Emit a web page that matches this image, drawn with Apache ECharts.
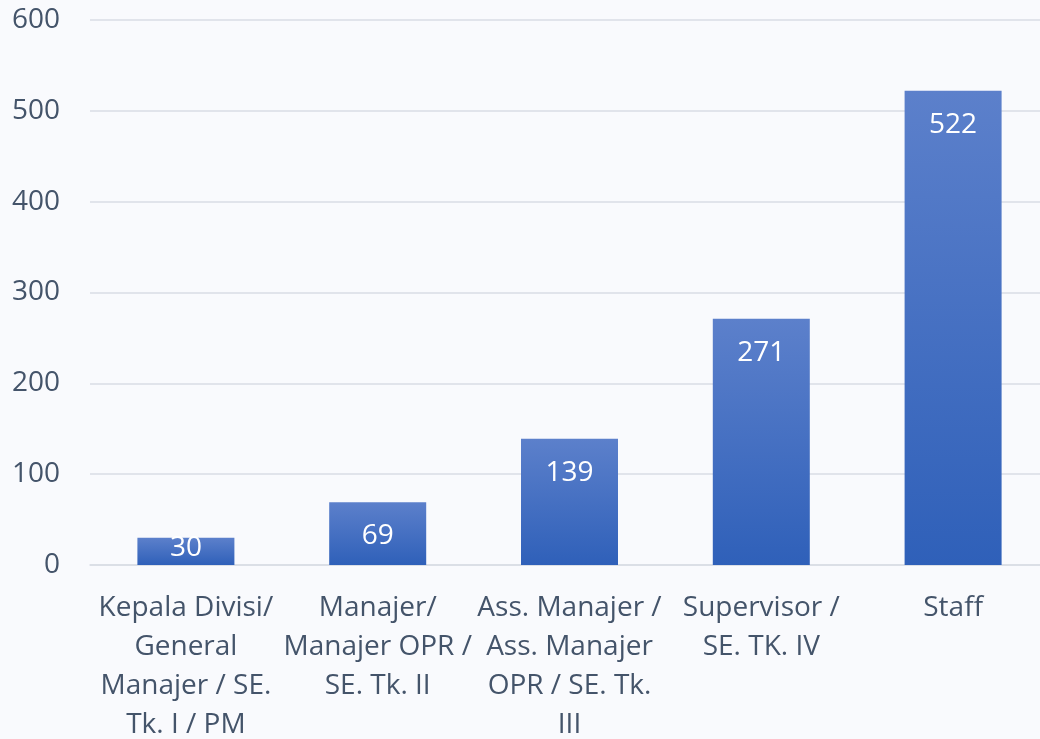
<!DOCTYPE html>
<html lang="en">
<head>
<meta charset="UTF-8" />
<title>Chart</title>
<script src="https://cdn.jsdelivr.net/npm/echarts@6/dist/echarts.min.js"></script>
<style>
  html, body { margin: 0; padding: 0; background: #F9FAFD; }
  #main { width: 1040px; height: 739px; }
</style>
</head>
<body>
<div id="main"></div>
<script>
  // kategori jabatan (baris dipecah seperti di gambar)
  var categories = [
    'Kepala Divisi/\nGeneral\nManajer / SE.\nTk. I / PM',
    'Manajer/\nManajer OPR /\nSE. Tk. II',
    'Ass. Manajer /\nAss. Manajer\nOPR / SE. Tk.\nIII',
    'Supervisor /\nSE. TK. IV',
    'Staff'
  ];
  var values = [30, 69, 139, 271, 522];

  var textColor = '#44546A';
  var font = 'Open Sans';

  var barColor = new echarts.graphic.LinearGradient(0, 0, 0, 1, [
    { offset: 0, color: '#5C80CB' },
    { offset: 1, color: '#2F60B9' }
  ]);

  var seriesData = values.map(function (v) {
    var item = { value: v };
    // bar terlalu pendek: label diletakkan di tengah
    if (v < 50) {
      item.label = { position: 'inside', offset: [0, -3] };
    }
    return item;
  });

  var myChart = echarts.init(document.getElementById('main'));
  var option = {
    backgroundColor: '#F9FAFD',
    animation: false,
    // plot area lebih lebar dari kanvas (terpotong di kanan seperti aslinya)
    grid: { left: 90, width: 959, top: 20, height: 545, outerBoundsMode: 'none' },
    xAxis: {
      type: 'category',
      data: categories,
      axisTick: { show: false },
      axisLine: { lineStyle: { color: '#D9DDE5', width: 1.5 } },
      axisLabel: {
        color: textColor,
        fontFamily: font,
        fontSize: 28,
        lineHeight: 39,
        margin: 24,
        interval: 0
      }
    },
    yAxis: {
      type: 'value',
      min: 0,
      max: 600,
      interval: 100,
      axisLine: { show: false },
      axisTick: { show: false },
      splitLine: { lineStyle: { color: '#D9DDE5', width: 1.5 } },
      axisLabel: {
        color: textColor,
        fontFamily: font,
        fontSize: 28,
        margin: 30
      }
    },
    series: [{
      type: 'bar',
      data: seriesData,
      barWidth: 97,
      itemStyle: { color: barColor },
      label: {
        show: true,
        position: 'insideTop',
        distance: 20,
        color: '#FFFFFF',
        fontFamily: font,
        fontSize: 28
      }
    }]
  };
  myChart.setOption(option);
</script>
</body>
</html>
